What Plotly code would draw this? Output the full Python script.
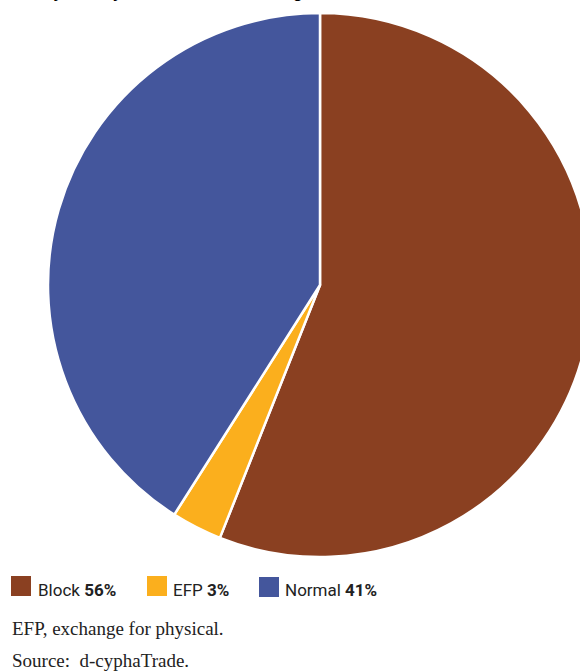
import plotly.graph_objects as go

# Share of trades by type
labels = ["Block", "EFP", "Normal"]
shares = [56, 3, 41]
colors = ["#8A4021", "#FBAF1D", "#44569C"]

title_text = "Monthly activity on the ASX 24 exchange"
notes = ["EFP, exchange for physical.", "Source:&nbsp; d-cyphaTrade."]

W, H = 640, 672  # canvas is wider than the view so the pie runs off the right edge


def px_x(x):
    return x / W


def px_y(y):
    return 1 - y / H


# pie centred at (320, 285)
cy, r = 285, 272
fig = go.Figure(
    go.Pie(
        labels=labels,
        values=shares,
        sort=False,
        direction="clockwise",
        rotation=0,
        marker=dict(colors=colors, line=dict(color="white", width=2.5)),
        textinfo="none",
        hoverinfo="label+percent",
        showlegend=False,
        domain=dict(x=[0, 1], y=[px_y(cy + r), px_y(cy - r)]),
    )
)

shapes = []
annotations = []

# title (top of it sits above the visible area)
annotations.append(
    dict(
        text=f"<b>{title_text}</b>",
        x=px_x(-1), y=px_y(-7), xref="paper", yref="paper",
        xanchor="left", yanchor="middle", showarrow=False,
        font=dict(family="Liberation Sans", size=16, color="#000"),
    )
)

# legend: colour squares with label and bold share
legend_x = [11, 147, 259]
legend_text_x = [36, 171, 283]
for i, (lab, val, col) in enumerate(zip(labels, shares, colors)):
    x0 = legend_x[i]
    y0 = 576 if i < 2 else 577
    shapes.append(
        dict(type="rect", xref="paper", yref="paper",
             x0=px_x(x0), x1=px_x(x0 + 20), y0=px_y(y0 + 20), y1=px_y(y0),
             fillcolor=col, line=dict(width=0))
    )
    annotations.append(
        dict(text=f"{lab} <b>{val}%</b>",
             x=px_x(legend_text_x[i]), y=px_y(590), xref="paper", yref="paper",
             xanchor="left", yanchor="middle", showarrow=False,
             font=dict(family="Roboto", size=17, color="#222"))
    )

# footnotes
for note, yc in zip(notes, [628, 660]):
    annotations.append(
        dict(text=note, x=px_x(10), y=px_y(yc), xref="paper", yref="paper",
             xanchor="left", yanchor="middle", showarrow=False,
             font=dict(family="Liberation Serif", size=19, color="#222"))
    )

fig.update_layout(
    width=W, height=H,
    margin=dict(l=0, r=0, t=0, b=0),
    paper_bgcolor="white", plot_bgcolor="white",
    shapes=shapes, annotations=annotations,
)

fig.write_html(
    "out.html",
    config={"displayModeBar": False},
    post_script="document.documentElement.style.overflow='hidden';"
                "document.body.style.overflow='hidden';document.body.style.margin='0';",
)
